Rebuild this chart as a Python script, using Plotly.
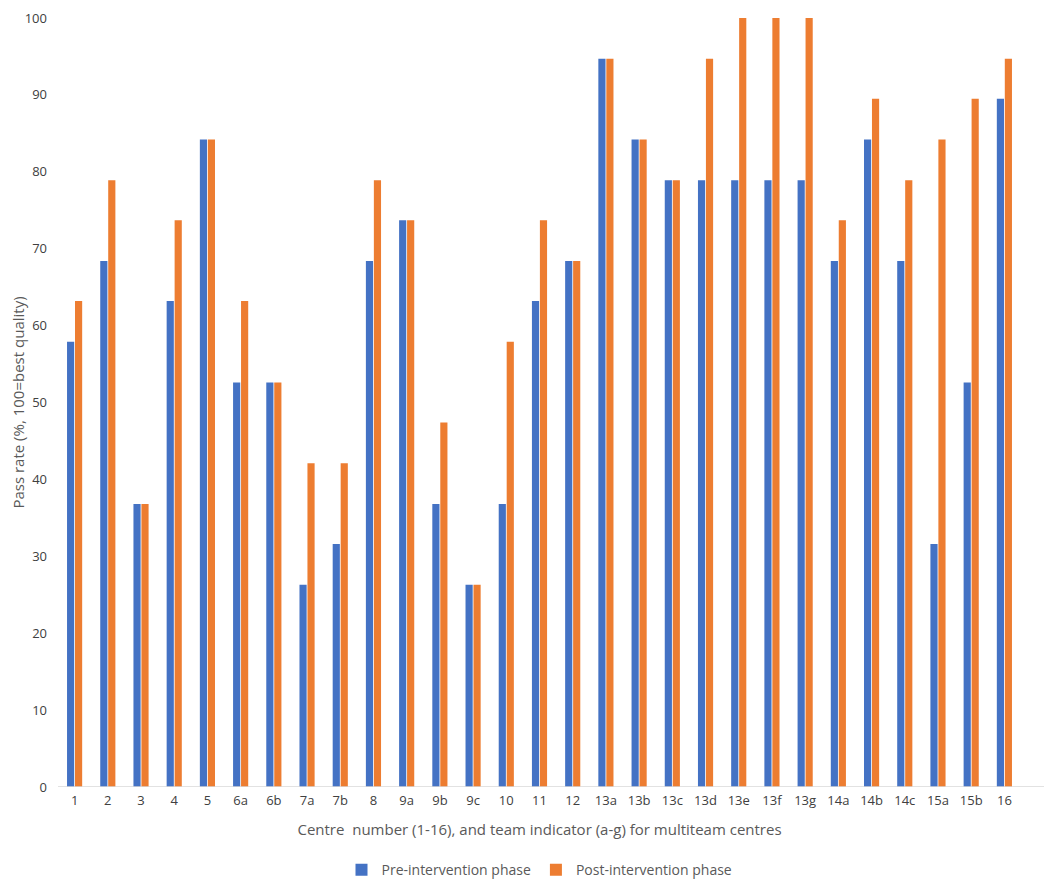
import plotly.graph_objects as go

centres = ["1", "2", "3", "4", "5", "6a", "6b", "7a", "7b", "8", "9a", "9b", "9c",
           "10", "11", "12", "13a", "13b", "13c", "13d", "13e", "13f", "13g",
           "14a", "14b", "14c", "15a", "15b", "16"]
pre = [57.9, 68.4, 36.8, 63.2, 84.2, 52.6, 52.6, 26.3, 31.6, 68.4, 73.7, 36.8, 26.3,
       36.8, 63.2, 68.4, 94.7, 84.2, 78.9, 78.9, 78.9, 78.9, 78.9,
       68.4, 84.2, 68.4, 31.6, 52.6, 89.5]
post = [63.2, 78.9, 36.8, 73.7, 84.2, 63.2, 52.6, 42.1, 42.1, 78.9, 73.7, 47.4, 26.3,
        57.9, 73.7, 68.4, 94.7, 84.2, 78.9, 94.7, 100, 100, 100,
        73.7, 89.5, 78.9, 84.2, 89.5, 94.7]

font = "Open Sans"
grey = "#595959"

fig = go.Figure()
fig.add_trace(go.Bar(x=centres, y=pre, name="Pre-intervention phase",
                     marker=dict(color="#4472C4", line=dict(width=0))))
fig.add_trace(go.Bar(x=centres, y=post, name="Post-intervention phase",
                     marker=dict(color="#ED7D31", line=dict(width=0))))

fig.update_layout(
    width=1052, height=886,
    margin=dict(l=50, r=39, t=10, b=107, autoexpand=False),
    plot_bgcolor="white", paper_bgcolor="white",
    barmode="group", bargap=0.52, bargroupgap=0.1,
    font=dict(family=font, size=13, color=grey),
    legend=dict(orientation="h", x=0.5, xanchor="center", y=-0.108, yanchor="middle",
                font=dict(size=14, color=grey), itemwidth=30, tracegroupgap=0),
    xaxis=dict(
        title=dict(text="Centre  number (1-16), and team indicator (a-g) for multiteam centres",
                   font=dict(size=15, color=grey), standoff=16),
        tickfont=dict(size=13, color="#404040"), ticklabelstandoff=4,
        showline=False, showgrid=False, ticks="", automargin=False,
    ),
    yaxis=dict(
        title=dict(text="Pass rate (%, 100=best quality)", font=dict(size=15, color=grey),
                   standoff=4),
        range=[0, 100], dtick=10, showgrid=False, zeroline=False, automargin=False,
        tickfont=dict(size=13, color="#404040"), ticks="", ticklabelstandoff=10,
    ),
)
fig.add_shape(type="line", xref="paper", yref="y", x0=0, x1=1.029, y0=0, y1=0,
              line=dict(color="#D9D9D9", width=1.5))

fig.write_html("out.html")
